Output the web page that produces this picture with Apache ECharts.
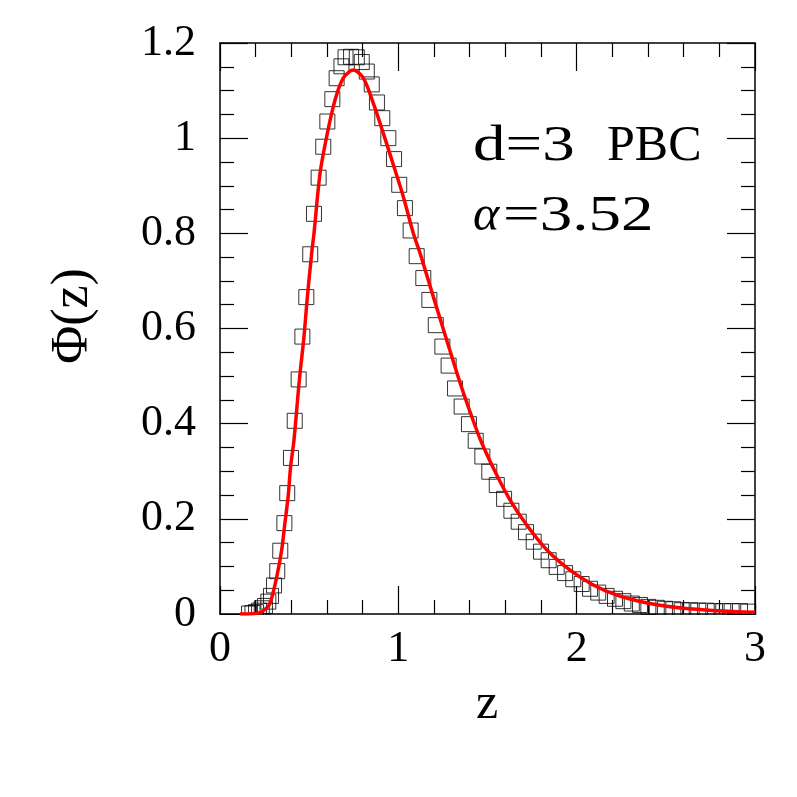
<!DOCTYPE html>
<html>
<head>
<meta charset="utf-8">
<script src="https://cdn.jsdelivr.net/npm/echarts@6/dist/echarts.min.js"></script>
<style>html,body{margin:0;padding:0;background:#fff}#c{width:797px;height:797px}</style>
</head>
<body>
<div id="c"></div>
<script>
// Data squares (simulation)
var sqZ = [0.163,0.182,0.202,0.219,0.234,0.252,0.271,0.286,0.303,0.321,
  0.338,0.361,0.377,0.398,0.419,0.441,0.462,0.484,0.506,0.527,
  0.553,0.579,0.602,0.630,0.654,0.681,0.704,0.735,0.767,0.795,
  0.823,0.851,0.880,0.910,0.944,0.976,1.005,1.037,1.069,1.103,
  1.140,1.174,1.210,1.247,1.282,1.318,1.355,1.396,1.434,1.471,
  1.510,1.552,1.593,1.634,1.675,1.716,1.759,1.800,1.843,1.888,
  1.935,1.981,2.028,2.075,2.121,2.168,2.215,2.262,2.309,2.355,
  2.402,2.449,2.495,2.542,2.589,2.636,2.682,2.729,2.776,2.822,
  2.869,2.916,2.962];
var sqPhi = [0.001,0.002,0.004,0.007,0.012,0.017,0.026,0.038,0.060,0.090,
  0.133,0.191,0.254,0.328,0.406,0.493,0.583,0.666,0.756,0.841,
  0.917,0.982,1.035,1.082,1.126,1.151,1.170,1.171,1.170,1.160,
  1.140,1.113,1.075,1.042,1.000,0.956,0.902,0.853,0.806,0.752,
  0.706,0.660,0.607,0.562,0.522,0.474,0.436,0.399,0.364,0.331,
  0.299,0.271,0.242,0.217,0.194,0.172,0.152,0.131,0.113,0.099,
  0.086,0.073,0.063,0.053,0.045,0.038,0.032,0.027,0.022,0.019,
  0.015,0.013,0.011,0.010,0.008,0.008,0.007,0.007,0.006,0.006,
  0.006,0.006,0.005];
// Fitted curve (red)
var fitZ = [0.112,0.18,0.224,0.25,0.28,0.318,0.346,0.364,0.383,0.396,
  0.415,0.445,0.471,0.490,0.514,0.527,0.561,0.598,0.645,0.691,
  0.747,0.804,0.860,0.916,0.972,1.028,1.084,1.122,1.196,1.271,
  1.346,1.402,1.465,1.552,1.626,1.720,1.832,1.963,2.093,2.224,
  2.411,2.598,2.785,3.0];
var fitPhi = [0,0.0005,0.003,0.009,0.022,0.078,0.135,0.191,0.250,0.310,
  0.366,0.492,0.583,0.667,0.758,0.800,0.926,1.003,1.080,1.126,
  1.143,1.126,1.073,1.010,0.944,0.877,0.800,0.758,0.667,0.576,
  0.486,0.425,0.362,0.292,0.240,0.187,0.135,0.092,0.061,0.040,
  0.022,0.012,0.007,0.0035];
var xTicks = {min:0, max:3, interval:1};
var yTicks = {min:0, max:1.2, interval:0.2};

var FONT = '"Liberation Serif", "Times New Roman", serif';
function pairs(a,b){ return a.map(function(v,i){ return [v,b[i]]; }); }

function axisBase(pos, show, t, minorN){
  return {
    type:'value', position:pos, min:t.min, max:t.max, interval:t.interval, z:4,
    axisLine:{show:true, onZero:false, lineStyle:{color:'#000', width:1.5}},
    axisTick:{show:true, inside:true, length:28, lineStyle:{color:'#000', width:1.2}},
    minorTick:{show:true, splitNumber:minorN, length:14, lineStyle:{color:'#000', width:1.2}},
    splitLine:{show:false}, minorSplitLine:{show:false},
    axisLabel:{show:show, color:'#000', fontFamily:FONT, fontSize:44, margin: pos==='bottom'?13:24}
  };
}

var chart = echarts.init(document.getElementById('c'), null, {renderer:'canvas'});
chart.setOption({
  animation:false,
  backgroundColor:'#fff',
  grid:{left:220, top:43, right:42, bottom:183, containLabel:false},
  xAxis:[axisBase('bottom', true, xTicks, 5), axisBase('top', false, xTicks, 5)],
  yAxis:[axisBase('left', true, yTicks, 4), axisBase('right', false, yTicks, 4)],
  series:[
    {type:'scatter', xAxisIndex:0, yAxisIndex:0, data:pairs(sqZ,sqPhi), symbol:'rect', symbolSize:15, z:2,
     itemStyle:{color:'rgba(0,0,0,0)', borderColor:'#000', borderWidth:1}},
    {type:'line', xAxisIndex:0, yAxisIndex:0, data:pairs(fitZ,fitPhi), showSymbol:false, smooth:0.3, z:6,
     lineStyle:{color:'#ff0000', width:3.5}}
  ],
  graphic:[
    {type:'rect', z:5, shape:{x:218, y:615, width:545, height:12}, style:{fill:'#fff'}, silent:true},
    {type:'text', z:10, x:473, y:147, style:{text:'d=3', fontFamily:FONT, fontSize:50, fill:'#000', align:'left', verticalAlign:'middle'}, scaleX:1.3},
    {type:'text', z:10, x:607, y:147, style:{text:'PBC', fontFamily:FONT, fontSize:50, fill:'#000', align:'left', verticalAlign:'middle'}},
    {type:'text', z:10, x:473, y:217, style:{text:'\u03b1', fontFamily:FONT, fontStyle:'italic', fontSize:50, fill:'#000', align:'left', verticalAlign:'middle'}},
    {type:'text', z:10, x:503, y:217, style:{text:'=3.52', fontFamily:FONT, fontSize:50, fill:'#000', align:'left', verticalAlign:'middle'}, scaleX:1.3},
    {type:'text', z:10, x:73, y:316, rotation:Math.PI/2, style:{text:'\u03a6(z)', fontFamily:FONT, fontSize:52, fill:'#000', align:'center', verticalAlign:'middle'}},
    {type:'text', z:10, x:487, y:705, style:{text:'z', fontFamily:FONT, fontSize:50, fill:'#000', align:'center', verticalAlign:'middle'}}
  ]
});
</script>
</body>
</html>
